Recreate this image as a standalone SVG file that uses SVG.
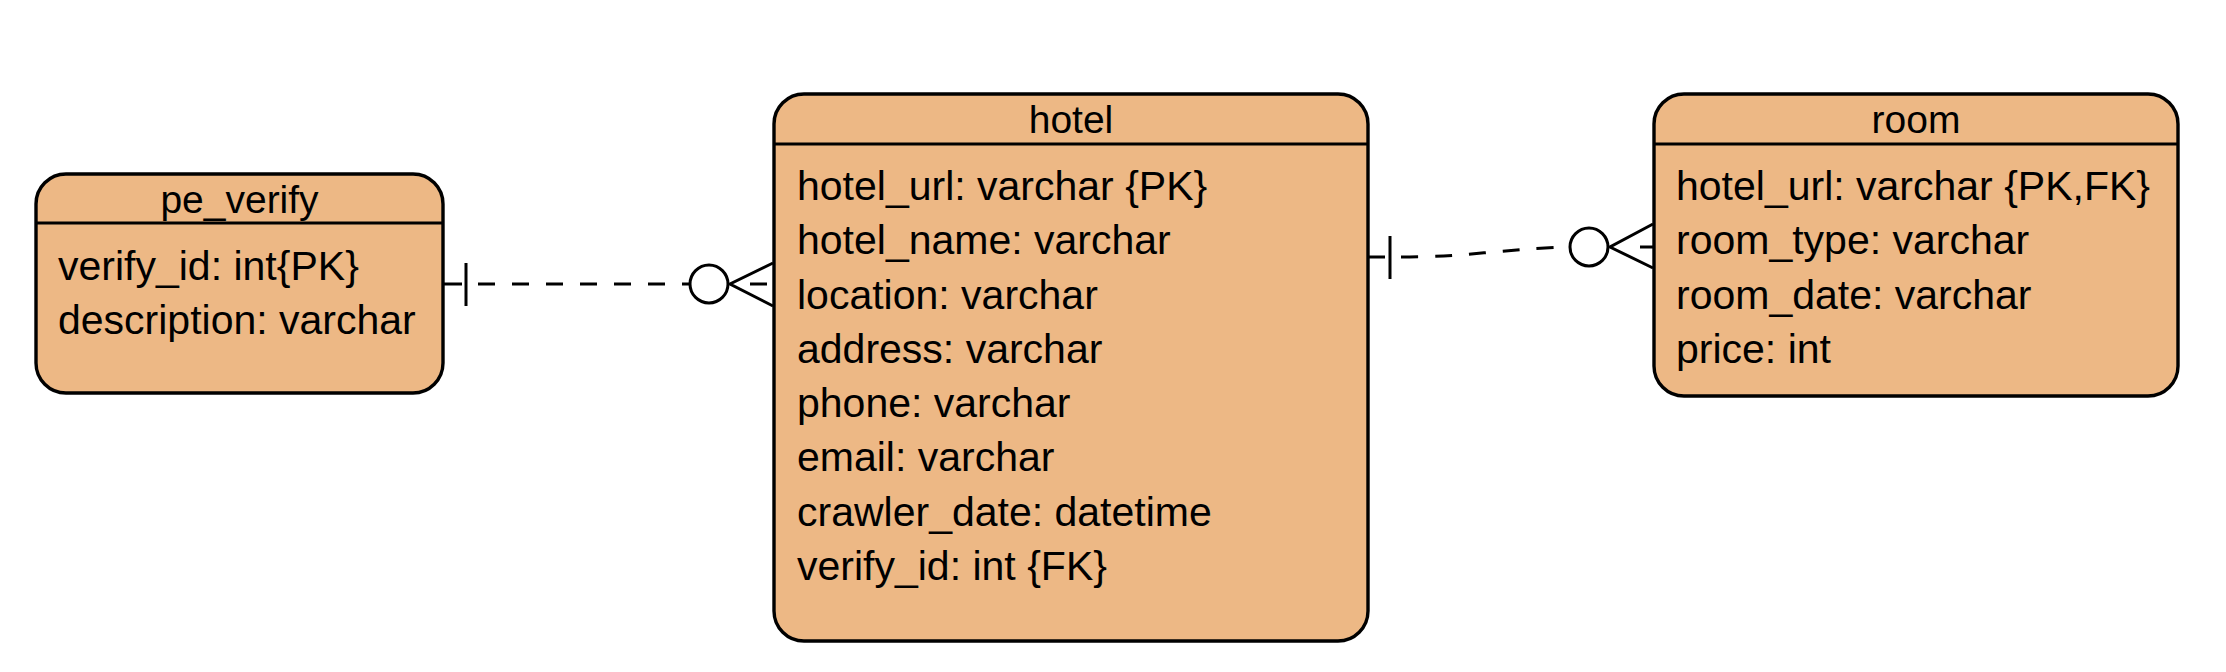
<svg xmlns="http://www.w3.org/2000/svg" width="2226" height="672" viewBox="0 0 2226 672">
<style>
.box{fill:#EDB885;stroke:#000;stroke-width:3.4}
.hdr{stroke:#000;stroke-width:3.2}
.title{font-family:"Liberation Sans",Arial,sans-serif;font-size:39px;fill:#000;text-anchor:middle}
.attr{font-family:"Liberation Sans",Arial,sans-serif;font-size:41px;fill:#000}
.ln{fill:none;stroke:#000;stroke-width:3}
.dash{fill:none;stroke:#000;stroke-width:3;stroke-dasharray:17 17}
.circ{fill:#fff;stroke:#000;stroke-width:3}
</style>
<rect width="2226" height="672" fill="#fff"/>
<g id="connectors">
  <g id="pe_verify-hotel">
    <path class="ln" d="M443,284 H462 M466,263 V306"/>
    <path class="dash" d="M478,284 H690"/>
    <circle class="circ" cx="709" cy="284" r="19"/>
    <path class="ln" d="M773,263 L730,284 L773,306 M750,284 H767"/>
  </g>
  <g id="hotel-room">
    <path class="ln" d="M1368,257 H1385 M1390,236 V279"/>
    <path class="dash" d="M1401,257 C1470,257 1500,249 1570,247"/>
    <circle class="circ" cx="1589" cy="247" r="19"/>
    <path class="ln" d="M1653,224 L1610,247 L1653,268 M1640,247 H1653"/>
  </g>
</g>
<g id="pe_verify">
  <rect class="box" x="36" y="174" width="407" height="219" rx="30"/>
  <line class="hdr" x1="36" y1="223" x2="443" y2="223"/>
  <text class="title" x="239.5" y="213">pe_verify</text>
  <text class="attr" x="58" y="280">verify_id: int{PK}</text>
  <text class="attr" x="58" y="334">description: varchar</text>
</g>
<g id="hotel">
  <rect class="box" x="774" y="94" width="594" height="547" rx="30"/>
  <line class="hdr" x1="774" y1="144" x2="1368" y2="144"/>
  <text class="title" x="1071" y="133">hotel</text>
  <text class="attr" x="797" y="200">hotel_url: varchar {PK}</text>
  <text class="attr" x="797" y="254.3">hotel_name: varchar</text>
  <text class="attr" x="797" y="308.6">location: varchar</text>
  <text class="attr" x="797" y="362.9">address: varchar</text>
  <text class="attr" x="797" y="417.1">phone: varchar</text>
  <text class="attr" x="797" y="471.4">email: varchar</text>
  <text class="attr" x="797" y="525.7">crawler_date: datetime</text>
  <text class="attr" x="797" y="580">verify_id: int {FK}</text>
</g>
<g id="room">
  <rect class="box" x="1654" y="94" width="524" height="302" rx="30"/>
  <line class="hdr" x1="1654" y1="144" x2="2178" y2="144"/>
  <text class="title" x="1916" y="133">room</text>
  <text class="attr" x="1676" y="200">hotel_url: varchar {PK,FK}</text>
  <text class="attr" x="1676" y="254.3">room_type: varchar</text>
  <text class="attr" x="1676" y="308.6">room_date: varchar</text>
  <text class="attr" x="1676" y="362.9">price: int</text>
</g>
</svg>
